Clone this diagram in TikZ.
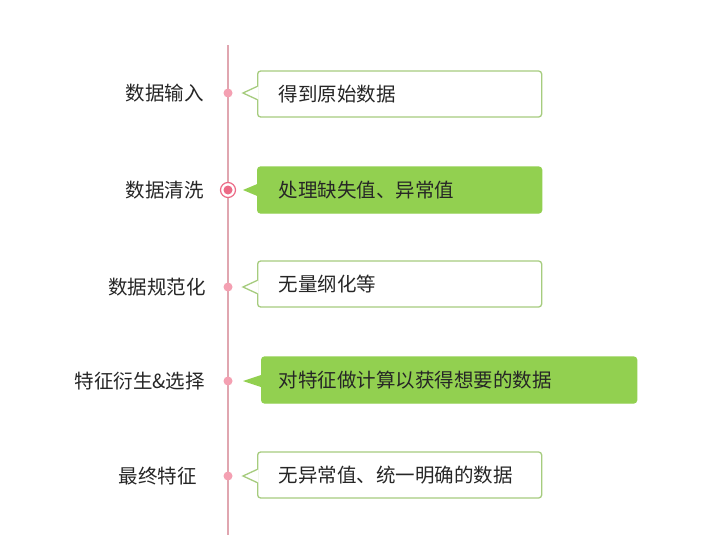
\documentclass[tikz,border=0pt]{standalone}
\usepackage{fontspec}
\usetikzlibrary{calc}
\newfontfamily\cjk{Noto Sans CJK SC}
\definecolor{axis}{HTML}{E0A6B0}
\definecolor{dotc}{HTML}{F4A0B2}
\definecolor{dotdark}{HTML}{EC6A86}
\definecolor{boxline}{HTML}{A6CC7E}
\definecolor{boxgreen}{HTML}{92D050}
\definecolor{txt}{HTML}{262626}
\tikzset{
  lbl/.style={font=\cjk\fontsize{19.5}{22}\selectfont, text=txt, anchor=east, inner sep=0pt},
  whitebox/.style={draw=boxline, line width=1.3pt, fill=white, rounded corners=3pt, anchor=west,
     minimum height=46pt, inner xsep=21pt, inner ysep=0pt, font=\cjk\fontsize{19.5}{22}\selectfont, text=txt, align=left},
  greenbox/.style={whitebox, draw=boxgreen, fill=boxgreen},
  dotn/.style={circle, fill=dotc, minimum size=9pt, inner sep=0pt},
}
\begin{document}
\begin{tikzpicture}[x=1pt,y=-1pt]
\useasboundingbox (0,0) rectangle (720,557);
\fill[white] (0,0) rectangle (720,557);
\coordinate (top) at (228,45);
\coordinate (bot) at (228,535);
\draw[axis, line width=1.1pt] (top) -- (bot);
% dots
\node[dotn] (d1) at (228,93) {};
\node[circle, draw=dotdark, line width=1.2pt, fill=white, minimum size=15pt, inner sep=0pt] (d2) at (228,190) {};
\node[circle, fill=dotdark, minimum size=9pt, inner sep=0pt] (d2i) at (228,190) {};
\node[dotn] (d3) at (228,287) {};
\node[dotn] (d4) at (228,381) {};
\node[dotn] (d5) at (228,476) {};
% labels
\node[lbl] (l1) at (204,93) {数据输入};
\node[lbl] (l2) at (204,190) {数据清洗};
\node[lbl] (l3) at (206,287) {数据规范化};
\node[lbl] (l4) at (205,381) {特征衍生\&选择};
\node[lbl] (l5) at (197,476) {最终特征};
% boxes
\node[whitebox, minimum width=284pt, text width=242pt] (b1) at (257,94) {得到原始数据};
\node[greenbox, minimum width=284pt, text width=242pt] (b2) at (257,190) {处理缺失值、异常值};
\node[whitebox, minimum width=284pt, text width=242pt] (b3) at (257,284) {无量纲化等};
\node[greenbox, minimum width=375pt, text width=341pt, inner xsep=17pt] (b4) at (261,380) {对特征做计算以获得想要的数据};
\node[whitebox, minimum width=284pt, text width=242pt] (b5) at (257,475) {无异常值、统一明确的数据};
% pointers
\coordinate (t1) at (243,93);
\coordinate (t2) at (243,190);
\coordinate (t3) at (243,287);
\coordinate (t4) at (243,381);
\coordinate (t5) at (243,476);
\foreach \b/\t in {b1/t1,b3/t3,b5/t5}{
  \fill[white] ($(\b.west |- \t)+(1.5,-6.5)$) -- (\t) -- ($(\b.west |- \t)+(1.5,6.5)$) -- cycle;
  \draw[boxline, line width=1.3pt, line join=miter] ($(\b.west |- \t)+(0,-6.5)$) -- (\t) -- ($(\b.west |- \t)+(0,6.5)$);
}
\foreach \b/\t in {b2/t2,b4/t4}{
  \fill[boxgreen] ($(\b.west |- \t)+(1.5,-6.5)$) -- (\t) -- ($(\b.west |- \t)+(1.5,6.5)$) -- cycle;
}
\end{tikzpicture}
\end{document}
